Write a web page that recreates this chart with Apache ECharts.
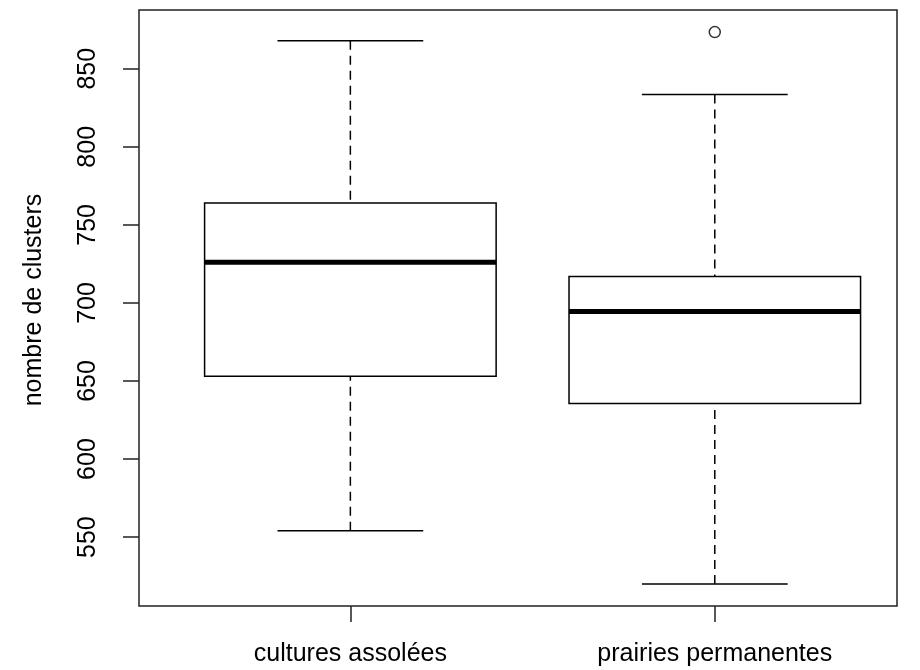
<!DOCTYPE html>
<html>
<head>
<meta charset="utf-8">
<script src="https://cdn.jsdelivr.net/npm/echarts@6/dist/echarts.min.js"></script>
<style>
  html, body { margin: 0; padding: 0; background: #fff; }
  #chart { width: 920px; height: 670px; }
</style>
</head>
<body>
<div id="chart"></div>
<script>
// Five-number summaries per group (lower whisker, Q1, median, Q3, upper whisker)
const categories = ['cultures assolées', 'prairies permanentes'];
const lowWhisker = [554, 520];
const q1 = [653, 635.5];
const median = [726, 694.5];
const q3 = [764, 717];
const highWhisker = [868, 833.5];
// Points beyond the whiskers, per group
const outliers = [[], [873.5]];
const yTicks = [550, 600, 650, 700, 750, 800, 850];

const boxData = categories.map((c, i) => [i + 1, lowWhisker[i], q1[i], median[i], q3[i], highWhisker[i]]);
const outlierData = [];
outliers.forEach((arr, i) => arr.forEach(v => outlierData.push([i + 1, v])));

// Axis ranges padded by 4% like a classic box plot
const allVals = lowWhisker.concat(highWhisker, outlierData.map(d => d[1]));
const yLo = Math.min.apply(null, allVals), yHi = Math.max.apply(null, allVals);
const pad = (yHi - yLo) * 0.04;

const FONT = 'Liberation Sans';
const INK = '#000';

function renderBox(params, api) {
  const x = api.value(0);
  const pLow = api.coord([x, api.value(1)]);
  const pQ1 = api.coord([x, api.value(2)]);
  const pMed = api.coord([x, api.value(3)]);
  const pQ3 = api.coord([x, api.value(4)]);
  const pHigh = api.coord([x, api.value(5)]);
  const hw = api.size([0.4, 0])[0];
  const cx = pMed[0];
  const thin = { stroke: INK, lineWidth: 1.5, fill: null };
  const dashed = { stroke: INK, lineWidth: 1.5, lineDash: [9, 6], fill: null };
  return {
    type: 'group',
    children: [
      { type: 'line', shape: { x1: cx, y1: pLow[1], x2: cx, y2: pQ1[1] }, style: dashed },
      { type: 'line', shape: { x1: cx, y1: pHigh[1], x2: cx, y2: pQ3[1] }, style: dashed },
      { type: 'line', shape: { x1: cx - hw / 2, y1: pLow[1], x2: cx + hw / 2, y2: pLow[1] }, style: thin },
      { type: 'line', shape: { x1: cx - hw / 2, y1: pHigh[1], x2: cx + hw / 2, y2: pHigh[1] }, style: thin },
      { type: 'rect', shape: { x: cx - hw, y: pQ3[1], width: hw * 2, height: pQ1[1] - pQ3[1] },
        style: { stroke: INK, lineWidth: 1.5, fill: '#fff' } },
      { type: 'line', shape: { x1: cx - hw, y1: pMed[1], x2: cx + hw, y2: pMed[1] },
        style: { stroke: INK, lineWidth: 5 } }
    ]
  };
}

const chart = echarts.init(document.getElementById('chart'), null, { renderer: 'canvas' });
chart.setOption({
  animation: false,
  backgroundColor: '#fff',
  grid: {
    left: 139, right: 23, top: 10, bottom: 64,
    show: true, borderColor: '#222', borderWidth: 1.5, backgroundColor: 'transparent'
  },
  xAxis: {
    type: 'value',
    min: 0.42, max: 2.5,
    splitLine: { show: false },
    axisLine: { show: false },
    axisTick: { show: true, length: 16, customValues: [1, 2], lineStyle: { color: '#222', width: 1.5 } },
    axisLabel: {
      customValues: [1, 2],
      formatter: v => categories[Math.round(v) - 1] || '',
      fontFamily: FONT, fontSize: 25, color: INK, margin: 36
    }
  },
  yAxis: {
    type: 'value',
    min: yLo - pad, max: yHi + pad,
    name: 'nombre de clusters',
    nameLocation: 'middle',
    nameGap: 92,
    nameTextStyle: { fontFamily: FONT, fontSize: 25, color: INK, padding: [0, 0, 0, 16] },
    splitLine: { show: false },
    axisLine: { show: false },
    axisTick: { show: true, length: 16, customValues: yTicks, lineStyle: { color: '#222', width: 1.5 } },
    axisLabel: {
      customValues: yTicks,
      rotate: 90,
      fontFamily: FONT, fontSize: 25, color: INK, margin: 38
    }
  },
  series: [
    {
      type: 'custom',
      renderItem: renderBox,
      data: boxData,
      encode: { x: 0, y: [1, 2, 3, 4, 5] },
      z: 2
    },
    {
      type: 'scatter',
      data: outlierData,
      symbol: 'circle',
      symbolSize: 11,
      itemStyle: { color: '#fff', borderColor: INK, borderWidth: 1.5 },
      z: 3
    }
  ]
});
</script>
</body>
</html>
